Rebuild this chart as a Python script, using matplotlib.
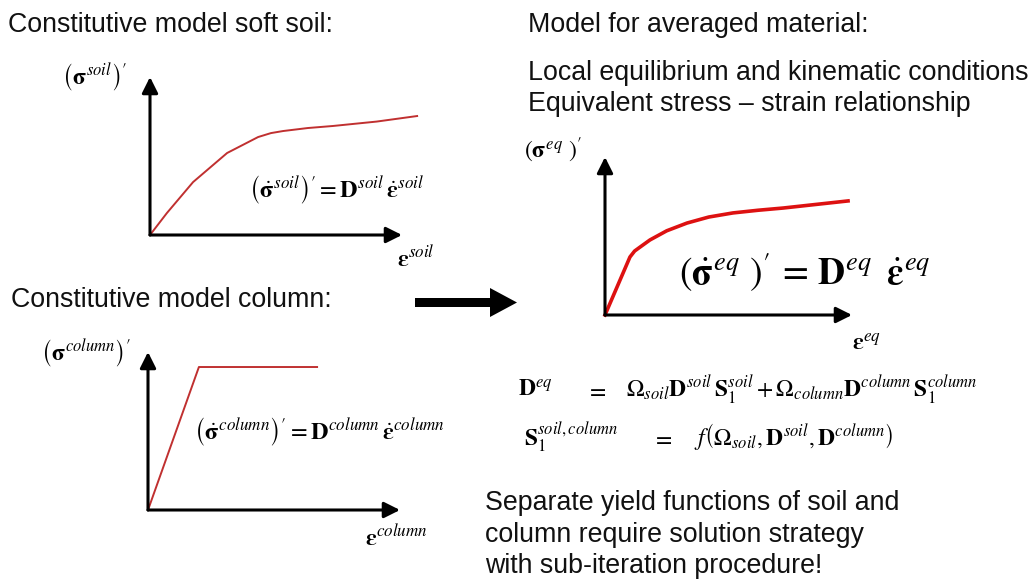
import numpy as np
import matplotlib.pyplot as plt
from matplotlib.patches import FancyArrow

plt.rcParams['font.family'] = ['Liberation Sans', 'DejaVu Sans']
plt.rcParams['mathtext.fontset'] = 'stix'

W, H = 1034, 580

# stress-strain curves, normalised to the axis length (0..1)
soil_strain = [0, 0.067, 0.171, 0.306, 0.429, 0.480, 0.528, 0.626, 0.726, 0.90, 1.06]
soil_stress = [0, 0.139, 0.335, 0.519, 0.620, 0.645, 0.658, 0.677, 0.690, 0.718, 0.753]

column_strain = [0, 0.202, 0.671]
column_stress = [0, 0.905, 0.905]

eq_strain = [0, 0.101, 0.120, 0.142, 0.182, 0.250, 0.332, 0.420, 0.518, 0.620, 0.721, 0.984]
eq_stress = [0, 0.367, 0.405, 0.430, 0.475, 0.533, 0.582, 0.620, 0.646, 0.663, 0.677, 0.722]

fig = plt.figure(figsize=(W / 100, H / 100), dpi=100)
ax0 = fig.add_axes([0, 0, 1, 1])
ax0.set_xlim(0, W)
ax0.set_ylim(H, 0)
ax0.axis('off')


def panel(ox, oy, w, h):
    # ox, oy = origin in pixels (top-left image coords), w, h = axis lengths
    ax = fig.add_axes([ox / W, 1 - oy / H, w / W, h / H])
    ax.set_xlim(0, 1)
    ax.set_ylim(0, 1)
    ax.axis('off')
    ap = dict(arrowstyle='-|>,head_length=0.8,head_width=0.4', lw=2.2,
              color='black', shrinkA=0, shrinkB=0, mutation_scale=12)
    ax.annotate('', xy=(1, 0), xytext=(0, 0), xycoords='axes fraction', arrowprops=ap)
    ax.annotate('', xy=(0, 1), xytext=(0, 0), xycoords='axes fraction', arrowprops=ap)
    return ax


ax1 = panel(150, 235, 252, 158)
ax1.plot(soil_strain, soil_stress, color='#c03030', lw=1.4, clip_on=False,
         solid_joinstyle='round')

ax2 = panel(148, 510, 252, 158)
ax2.plot(column_strain, column_stress, color='#c03030', lw=1.4, clip_on=False)

ax3 = panel(605, 315, 247, 158)
ax3.plot(eq_strain, eq_stress, color='#dd1111', lw=2.6, clip_on=False,
         solid_joinstyle='round')

# big arrow between left and right side
ax0.add_patch(FancyArrow(415, 302.5, 102, 0, width=9, head_width=29,
                         head_length=27, length_includes_head=True,
                         color='black', lw=0))

# plain text
txt = dict(fontsize=19.3, color='#111111', va='baseline', ha='left')
ax0.text(8, 32, 'Constitutive model soft soil:', **txt)
ax0.text(11, 307, 'Constitutive model column:', **txt)
ax0.text(528, 32, 'Model for averaged material:', **txt)
ax0.text(528, 80, 'Local equilibrium and kinematic conditions', **txt)
ax0.text(528, 111, 'Equivalent stress \u2013 strain relationship', **txt)
ax0.text(485, 510, 'Separate yield functions of soil and', **txt)
ax0.text(485, 542, 'column require solution strategy', **txt)
ax0.text(485, 573, 'with sub-iteration procedure!', **txt)

# math labels
m = dict(color='black', va='baseline', ha='left')
sig = r'\mathbf{\sigma}'
dsig = r'\dot{\mathbf{\sigma}}'
eps = r'\mathbf{\varepsilon}'
deps = r'\dot{\mathbf{\varepsilon}}'


def paren(body):
    return r'\left(' + body + r'_{\,}\right)^{\prime}'


ax0.text(62, 85, '$' + paren(sig + r'^{soil}') + '$', fontsize=17, **m)
ax0.text(249, 198, '$' + paren(dsig + r'^{soil}') + r' = \mathbf{D}^{soil}\,' + deps + r'^{soil}$', fontsize=17.5, **m)
ax0.text(397, 267, '$' + eps + r'^{soil}$', fontsize=17.5, **m)

ax0.text(41, 361, '$' + paren(sig + r'^{column}') + '$', fontsize=17, **m)
ax0.text(194, 440, '$' + paren(dsig + r'^{column}') + r' = \mathbf{D}^{column}\,' + deps + r'^{column}$', fontsize=17.5, **m)
ax0.text(365, 546, '$' + eps + r'^{column}$', fontsize=17.5, **m)

ax0.text(524, 158, '$' + paren(sig + r'^{eq}\,') + '$', fontsize=17, **m)
ax0.text(679, 285, '$' + paren(dsig + r'^{eq}\,') + r'\,=\,\mathbf{D}^{eq}\;\;' + deps + r'^{eq}$', fontsize=27, **m)
ax0.text(852, 351, '$' + eps + r'^{eq}$', fontsize=17.5, **m)

ax0.text(518, 397, r'$\mathbf{D}^{eq}$', fontsize=17, **m)
ax0.text(586, 397, r'$=$', fontsize=17, **m)
ax0.text(626, 397, r'$\Omega_{soil}\mathbf{D}^{soil}\,\mathbf{S}_1^{soil} + \Omega_{column}\mathbf{D}^{column}\,\mathbf{S}_1^{column}$', fontsize=17, **m)
ax0.text(524, 445, r'$\mathbf{S}_1^{soil,column}$', fontsize=17, **m)
ax0.text(652, 445, r'$=$', fontsize=17, **m)
ax0.text(694, 445, r'$f\left(\Omega_{soil}, \mathbf{D}^{soil}, \mathbf{D}^{column}\right)$', fontsize=17, **m)

fig.savefig('out.png', dpi=100)
